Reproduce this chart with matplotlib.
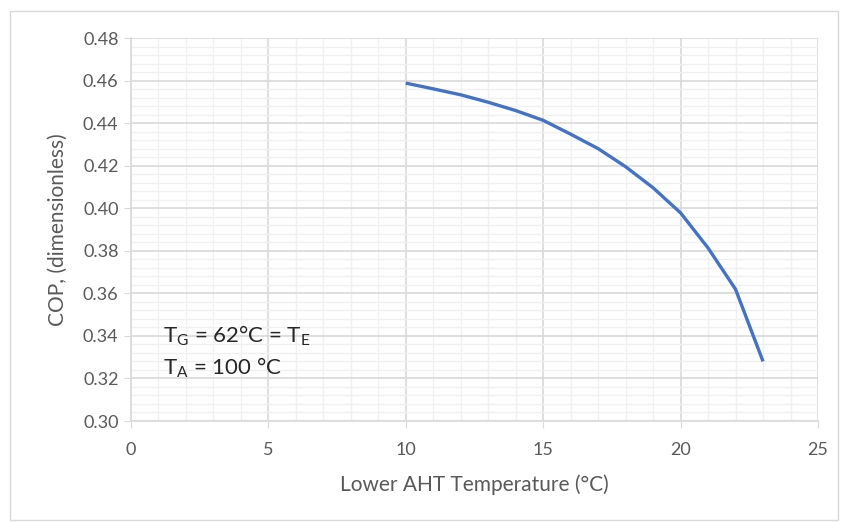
import matplotlib
matplotlib.use("Agg")
import matplotlib.pyplot as plt
from matplotlib.patches import Rectangle
import numpy as np

temps = [10, 11, 12, 13, 14, 15, 16, 17, 18, 19, 20, 21, 22, 23]
cop = [0.4588, 0.4561, 0.4533, 0.4498, 0.4459, 0.4413, 0.4348, 0.4280, 0.4195, 0.4096, 0.3978, 0.3813, 0.3619, 0.3280]
xticks = [0, 5, 10, 15, 20, 25]
yticks = [0.30, 0.32, 0.34, 0.36, 0.38, 0.40, 0.42, 0.44, 0.46, 0.48]

plt.rcParams['font.family'] = ['Lato', 'DejaVu Sans']
gray = '#595959'

fig = plt.figure(figsize=(8.42, 5.23), dpi=100)
fig.patches.append(Rectangle((10/842, 1-520/523), 828/842, 509/523, transform=fig.transFigure,
                             fill=False, edgecolor='#d9d9d9', linewidth=1))
ax = fig.add_axes([131/842, 1-421/523, 687/842, 383/523])

ax.set_xlim(0, 25)
ax.set_ylim(0.30, 0.48)
ax.set_xticks(xticks)
ax.set_yticks(yticks)
ax.set_xticks(np.arange(0, 26, 1), minor=True)
ax.set_yticks(np.arange(0.30, 0.4801, 0.004), minor=True)
ax.set_xticklabels([str(v) for v in xticks])
ax.set_yticklabels([f"{v:.2f}" for v in yticks])
ax.grid(which='major', color='#d9d9d9', linewidth=1.2)
ax.grid(which='minor', color='#f0f0f0', linewidth=1.0)
ax.set_axisbelow(True)
for s in ['top', 'right']:
    ax.spines[s].set_visible(False)
for s in ['left', 'bottom']:
    ax.spines[s].set_color('#d9d9d9')
    ax.spines[s].set_linewidth(1.2)
ax.tick_params(which='major', length=5, color='#d9d9d9', labelcolor=gray, labelsize=13)
ax.tick_params(which='minor', length=0)
ax.tick_params(axis='x', pad=10)
ax.tick_params(axis='y', pad=4)

ax.plot(temps, cop, color='#4472c4', linewidth=2.4, solid_capstyle='butt', solid_joinstyle='round')

ax.set_xlabel('Lower AHT Temperature (°C)', color=gray, fontsize=15, labelpad=12)
ax.set_ylabel('COP, (dimensionless)', color=gray, fontsize=15, labelpad=11)

ax.text(1.15, 0.340, r'T$_\mathregular{G}$ = 62°C = T$_\mathregular{E}$', fontsize=16, color='#262626', va='center')
ax.text(1.15, 0.325, r'T$_\mathregular{A}$ = 100 °C', fontsize=16, color='#262626', va='center')

fig.savefig('out.png', dpi=100)
